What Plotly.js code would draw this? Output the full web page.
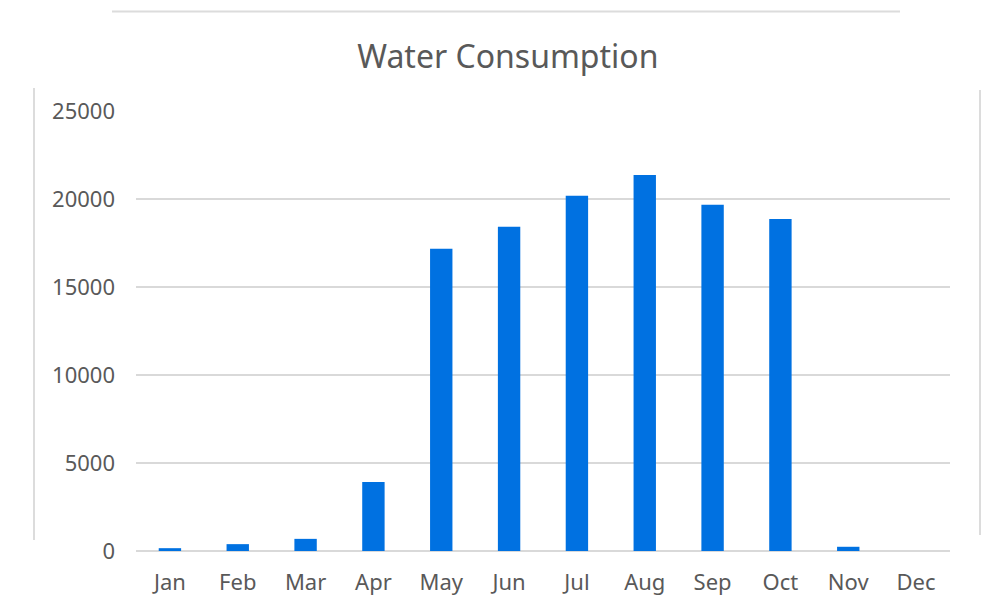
<!DOCTYPE html>
<html>
<head>
<meta charset="utf-8">
<script src="https://cdn.plot.ly/plotly-3.0.1.min.js"></script>
<style>html,body{margin:0;padding:0;background:#fff;}#chart{width:992px;height:606px;}</style>
</head>
<body>
<div id="chart"></div>
<script>
const months = ["Jan","Feb","Mar","Apr","May","Jun","Jul","Aug","Sep","Oct","Nov","Dec"];
const consumption = [160, 390, 690, 3920, 17170, 18420, 20190, 21370, 19680, 18870, 240, 0];
const yTicks = [0, 5000, 10000, 15000, 20000, 25000];

const textColor = "#595959";
const fontFamily = "'Noto Sans', 'Open Sans', sans-serif";

const trace = {
  type: "bar",
  x: months,
  y: consumption,
  marker: { color: "#0071E1", line: { width: 0 } },
  hoverinfo: "x+y"
};

const frame = "#DCDCDC";
const layout = {
  width: 992,
  height: 606,
  margin: { l: 136, r: 42, t: 111, b: 55 },
  paper_bgcolor: "#ffffff",
  plot_bgcolor: "#ffffff",
  bargap: 0.67,
  showlegend: false,
  title: {
    text: "Water Consumption",
    font: { family: fontFamily, size: 32, color: textColor },
    xref: "container", x: 0.512, xanchor: "center",
    yref: "container", y: 1 - 57/606, yanchor: "middle"
  },
  xaxis: {
    type: "category",
    tickfont: { family: fontFamily, size: 22, color: textColor },
    showgrid: false,
    showline: false,
    zeroline: false,
    ticks: "",
    ticklabelstandoff: 16,
    fixedrange: true
  },
  yaxis: {
    range: [0, 25000],
    tickvals: yTicks,
    ticktext: yTicks.map(String),
    tickfont: { family: fontFamily, size: 22, color: textColor },
    showgrid: true,
    gridcolor: "#D9D9D9",
    gridwidth: 2,
    zeroline: true,
    zerolinecolor: "#D9D9D9",
    zerolinewidth: 2,
    showline: false,
    ticks: "",
    ticklabelstandoff: 20,
    fixedrange: true
  }
};

// decorative chart-area frame (pixel positions converted to paper coords)
const plotW = 992 - 136 - 42, plotH = 606 - 111 - 55;
const px = v => (v - 136) / plotW;
const py = v => (606 - 55 - v) / plotH;
layout.shapes = [
  { type: "line", xref: "paper", yref: "paper", x0: px(112), x1: px(900), y0: py(11.5), y1: py(11.5), line: { color: frame, width: 2 } },
  { type: "line", xref: "paper", yref: "paper", x0: px(34), x1: px(34), y0: py(88), y1: py(540), line: { color: frame, width: 2 } },
  { type: "line", xref: "paper", yref: "paper", x0: px(980), x1: px(980), y0: py(90), y1: py(535), line: { color: frame, width: 2 } }
];

Plotly.newPlot("chart", [trace], layout, { displayModeBar: false, staticPlot: true });
</script>
</body>
</html>
